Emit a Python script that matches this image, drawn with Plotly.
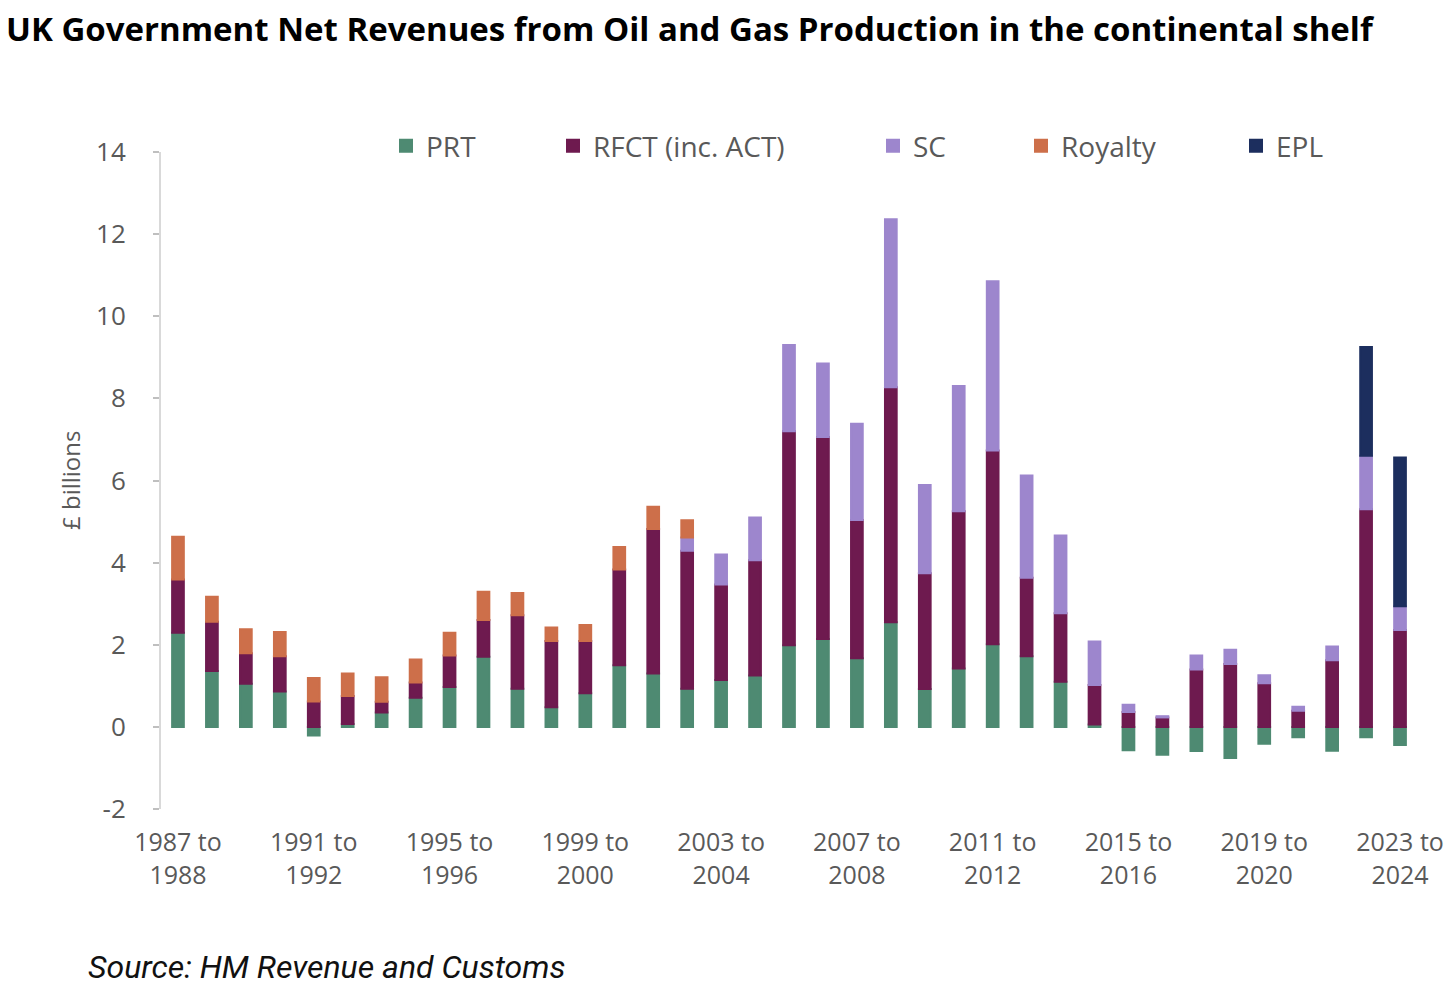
import plotly.graph_objects as go

# ---- data (values in £ billions) ----
start_years = list(range(1987, 2024))
categories = [f"{y} to {y + 1}" for y in start_years]

prt = [2.29, 1.36, 1.05, 0.86, -0.21, 0.07, 0.35, 0.71, 0.97, 1.71,
       0.93, 0.48, 0.82, 1.50, 1.30, 0.93, 1.14, 1.25, 1.99, 2.14,
       1.67, 2.55, 0.92, 1.42, 2.01, 1.72, 1.10, 0.06, -0.57, -0.68,
       -0.59, -0.76, -0.41, -0.25, -0.58, -0.25, -0.44]

rfct = [1.30, 1.20, 0.74, 0.86, 0.62, 0.68, 0.26, 0.37, 0.77, 0.89,
        1.79, 1.61, 1.27, 2.33, 3.52, 3.36, 2.33, 2.81, 5.21, 4.92,
        3.37, 5.72, 2.82, 3.83, 4.72, 1.91, 1.67, 0.96, 0.36, 0.23,
        1.40, 1.53, 1.06, 0.39, 1.62, 5.30, 2.36]

sc = [None, None, None, None, None, None, None, None, None, None,
      None, None, None, None, None, 0.32, 0.73, 1.04, 2.10, 1.79,
      2.34, 4.09, 2.15, 3.05, 4.12, 2.49, 1.89, 1.06, 0.18, 0.03,
      0.34, 0.35, 0.20, 0.10, 0.34, 1.30, 0.58]

royalty = [1.04, 0.61, 0.59, 0.59, 0.57, 0.55, 0.60, 0.56, 0.55, 0.69,
           0.54, 0.33, 0.39, 0.55, 0.54, 0.42, None, None, None, None,
           None, None, None, None, None, None, None, None, None, None,
           None, None, None, None, None, None, None]

epl = [None] * 35 + [2.65, 3.62]

series_names = ["PRT", "RFCT (inc. ACT)", "SC", "Royalty", "EPL"]
series_values = [prt, rfct, sc, royalty, epl]
series_colors = ["#4E8A72", "#6E1A4F", "#9D86CD", "#CD6F4A", "#1C2E5E"]

y_ticks = [-2, 0, 2, 4, 6, 8, 10, 12, 14]
y_tick_text = ["-2", "0", "2", "4", "6", "8", "10", "12", "14"]
label_every = 4
tick_cats = categories[::label_every]
tick_text = [c.replace(" to ", " to<br>") for c in tick_cats]

# ---- layout geometry (page pixels; body margin removed below) ----
W, H = 1456, 1004
PLOT_LEFT, PLOT_RIGHT, PLOT_TOP, PLOT_BOTTOM = 161, 1417, 152, 809
L, T = PLOT_LEFT, PLOT_TOP
R, B = W - PLOT_RIGHT, H - PLOT_BOTTOM
plot_w = PLOT_RIGHT - PLOT_LEFT
plot_h = PLOT_BOTTOM - PLOT_TOP

def px_x(px):
    return (px - PLOT_LEFT) / plot_w

def px_y(py):
    return (PLOT_BOTTOM - py) / plot_h

legend_square_centers = [406, 573, 893, 1041, 1256]
legend_y_px = 146

TEXT_GREY = "#595959"
AXIS_GREY = "#d9d9d9"
TICK_GREY = "#bfbfbf"
FONT = "Open Sans"

fig = go.Figure()
legend_ids = ["legend", "legend2", "legend3", "legend4", "legend5"]
for name, vals, col, lg in zip(series_names, series_values, series_colors, legend_ids):
    fig.add_trace(go.Bar(
        x=categories, y=vals, name=name,
        marker=dict(color=col, line=dict(width=2, color=col)),
        legend=lg, showlegend=True,
        hovertemplate="%{x}<br>" + name + ": £%{y:.2f}bn<extra></extra>",
    ))

legend_layouts = {}
for lg, cx in zip(legend_ids, legend_square_centers):
    legend_layouts[lg] = dict(
        x=px_x(cx - 20), xanchor="left",
        y=px_y(legend_y_px), yanchor="middle",
        orientation="h", bgcolor="rgba(0,0,0,0)", borderwidth=0,
        font=dict(family=FONT, size=28, color=TEXT_GREY),
        itemclick=False, itemdoubleclick=False,
    )

n = len(categories)
boundaries = [i - 0.5 for i in range(n + 1)]

fig.update_layout(
    width=W, height=H,
    margin=dict(l=L, r=R, t=T, b=B, autoexpand=False),
    paper_bgcolor="white", plot_bgcolor="white",
    showlegend=True,
    barmode="relative", bargap=0.655,
    title=dict(
        text="UK Government Net Revenues from Oil and Gas Production in the continental shelf",
        font=dict(family=FONT, size=33, color="#000000", weight=700),
        xref="container", x=6 / W, xanchor="left",
        yref="container", y=1 - 29 / H, yanchor="middle",
        pad=dict(l=0, r=0, t=0, b=0),
    ),
    xaxis=dict(
        type="category", range=[-0.5, n - 0.5],
        showline=False, showgrid=False, zeroline=False, ticks="",
        tickmode="array", tickvals=tick_cats, ticktext=tick_text,
        tickfont=dict(family=FONT, size=25, color=TEXT_GREY),
        ticklabelstandoff=16, tickangle=0,
    ),
    xaxis2=dict(
        overlaying="x", anchor="free",
        position=(0 - y_ticks[0]) / (y_ticks[-1] - y_ticks[0]),
        type="linear", range=[-0.5, n - 0.5],
        tickmode="array", tickvals=boundaries, showticklabels=False,
        ticks="outside", ticklen=7, tickwidth=1.5, tickcolor=TICK_GREY,
        showline=True, linecolor=AXIS_GREY, linewidth=2,
        showgrid=False, zeroline=False, fixedrange=True,
    ),
    yaxis=dict(
        range=[y_ticks[0], y_ticks[-1]], tickmode="array",
        tickvals=y_ticks, ticktext=y_tick_text,
        showline=True, linecolor=AXIS_GREY, linewidth=2,
        ticks="outside", ticklen=6, tickwidth=1.5, tickcolor=TICK_GREY,
        showgrid=False, zeroline=False,
        tickfont=dict(family=FONT, size=26, color=TEXT_GREY),
        ticklabelstandoff=22,
    ),
    annotations=[
        dict(text="£ billions", textangle=-90, showarrow=False,
             xref="paper", yref="paper", x=px_x(70), y=px_y(481),
             xanchor="center", yanchor="middle",
             font=dict(family=FONT, size=24, color=TEXT_GREY)),
        dict(text="Source: HM Revenue and Customs", showarrow=False,
             xref="paper", yref="paper", x=px_x(86), y=px_y(967),
             xanchor="left", yanchor="middle",
             font=dict(family="Roboto", size=32, color="#111111", style="italic")),
    ],
    **legend_layouts,
)

fig.write_html(
    "out.html",
    config={"displayModeBar": False},
    post_script="document.body.style.margin='0';document.body.style.overflow='hidden';",
)
